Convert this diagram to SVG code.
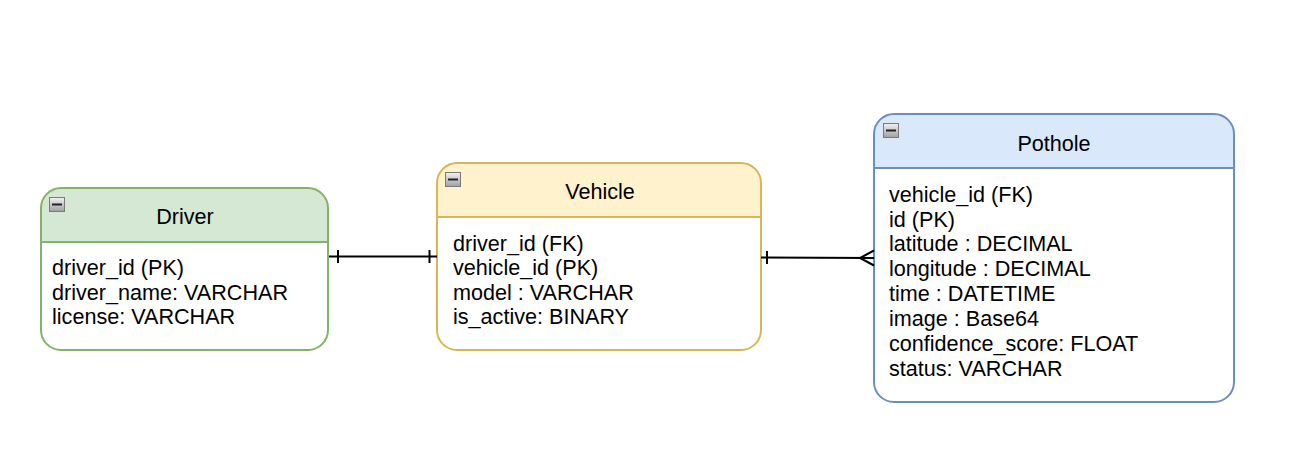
<svg xmlns="http://www.w3.org/2000/svg" width="1290" height="471" viewBox="0 0 1290 471">
<defs>
<linearGradient id="ig" x1="0" y1="0" x2="0" y2="1">
<stop offset="0" stop-color="#f2f2f2"/>
<stop offset="1" stop-color="#a0a0a0"/>
</linearGradient>
<g id="minus">
<rect x="0.5" y="0.5" width="15" height="14" fill="url(#ig)" stroke="#7a7a7a" stroke-width="1"/>
<rect x="3" y="6.5" width="10" height="2" fill="#222"/>
</g>
</defs>
<style>
text{font-family:"Liberation Sans",Arial,sans-serif;font-size:21.6px;fill:#000}
.t{text-anchor:middle}
.c{fill:none;stroke:#000;stroke-width:2}
.o{fill:none;stroke-width:2}
</style>
<rect width="1290" height="471" fill="#fff"/>

<g id="driver">
<rect x="41" y="188" width="287" height="162" rx="20" fill="#fff"/>
<path d="M41 242 V208 A20 20 0 0 1 61 188 H308 A20 20 0 0 1 328 208 V242 Z" fill="#d5e8d4"/>
<line x1="41" y1="242" x2="328" y2="242" stroke="#82b366" stroke-width="2"/>
<rect class="o" x="41" y="188" width="287" height="162" rx="20" stroke="#82b366"/>
<use href="#minus" x="49" y="197"/>
<text class="t" x="185" y="224">Driver</text>
<text x="52" y="275">driver_id (PK)</text>
<text x="52" y="299.7">driver_name: VARCHAR</text>
<text x="52" y="324.4">license: VARCHAR</text>
</g>

<g id="vehicle">
<rect x="437" y="163" width="324" height="187" rx="20" fill="#fff"/>
<path d="M437 217 V183 A20 20 0 0 1 457 163 H741 A20 20 0 0 1 761 183 V217 Z" fill="#fff2cc"/>
<line x1="437" y1="217" x2="761" y2="217" stroke="#d6b656" stroke-width="2"/>
<rect class="o" x="437" y="163" width="324" height="187" rx="20" stroke="#d6b656"/>
<use href="#minus" x="445" y="172"/>
<text class="t" x="600" y="198.5">Vehicle</text>
<text x="453" y="250.5">driver_id (FK)</text>
<text x="453" y="275">vehicle_id (PK)</text>
<text x="453" y="299.5">model : VARCHAR</text>
<text x="453" y="324">is_active: BINARY</text>
</g>

<g id="pothole">
<rect x="874" y="114" width="360" height="288" rx="20" fill="#fff"/>
<path d="M874 168 V134 A20 20 0 0 1 894 114 H1214 A20 20 0 0 1 1234 134 V168 Z" fill="#dae8fc"/>
<line x1="874" y1="168" x2="1234" y2="168" stroke="#6c8ebf" stroke-width="2"/>
<rect class="o" x="874" y="114" width="360" height="288" rx="20" stroke="#6c8ebf"/>
<use href="#minus" x="883" y="123"/>
<text class="t" x="1054" y="151">Pothole</text>
<text x="889" y="201.7">vehicle_id (FK)</text>
<text x="889" y="226.5">id (PK)</text>
<text x="889" y="251.4">latitude : DECIMAL</text>
<text x="889" y="276.2">longitude : DECIMAL</text>
<text x="889" y="301">time : DATETIME</text>
<text x="889" y="325.9">image : Base64</text>
<text x="889" y="350.8">confidence_score: FLOAT</text>
<text x="889" y="375.7">status: VARCHAR</text>
</g>

<g id="connectors">
<path class="c" d="M329 256.5 H437"/>
<path class="c" d="M338 250 V263"/>
<path class="c" d="M429.5 250 V263"/>
<path class="c" d="M761 257.5 L874 258"/>
<path class="c" d="M767 251 V264"/>
<path class="c" d="M874 250.5 L860 258 L874 265.5"/>
</g>
</svg>
